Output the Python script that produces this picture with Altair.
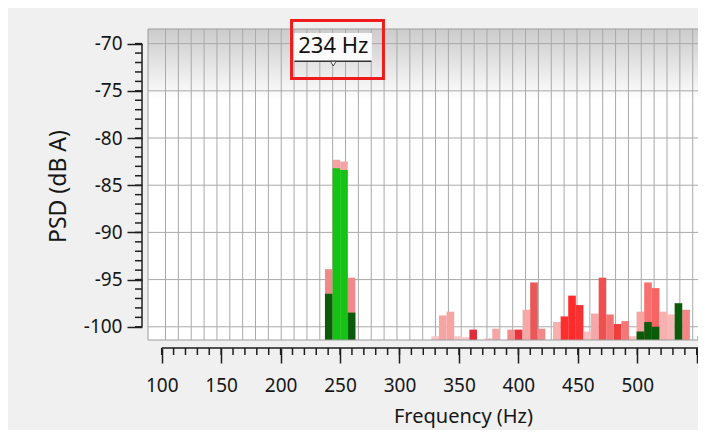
import altair as alt
import pandas as pd

# ---------------- data ----------------
# background (pink / red) bars: bin centre (Hz), level (dB A), colour
back_hz = [240.5, 246.9, 253.3, 259.7, 330.0, 336.4, 342.8, 349.2, 355.6, 362.0,
           374.8, 381.2, 393.9, 400.3, 406.7, 413.1, 419.5, 432.3, 438.7, 445.1,
           451.5, 457.9, 464.3, 470.7, 477.0, 483.4, 489.8, 496.2, 502.6, 509.0,
           515.4, 521.8, 528.2, 541.0, 553.8]
back_db = [-93.9, -82.3, -82.5, -94.8, -101.0, -98.8, -98.4, -101.0, -101.1, -100.3,
           -101.2, -100.2, -100.3, -100.3, -98.2, -95.3, -100.2, -99.5, -98.9, -96.7,
           -97.7, -100.5, -98.6, -94.8, -98.7, -99.7, -99.4, -101.0, -98.4, -95.3,
           -95.9, -98.4, -98.7, -98.2, -101.0]
back_color = ["#f08a8a", "#f4a4a4", "#f4a4a4", "#f08a8a", "#f8c6c6", "#f5a3a3", "#f5a3a3",
              "#f8c6c6", "#f8caca", "#e02c3c", "#f8caca", "#f5a5a5", "#f28c8c", "#e8323c",
              "#f5a8a8", "#e85858", "#f08a8a", "#f7b0b0", "#ff2e2e", "#ff2a2a", "#f83232",
              "#f8c0c0", "#f6a8a8", "#ee5050", "#f47272", "#ee3e3e", "#f47878", "#f8c0c0",
              "#f7a4a4", "#f87070", "#f86464", "#f8b0b0", "#f8b8b8", "#f58484", "#e84040"]

# foreground (green) bars
front_hz = [240.5, 246.9, 253.3, 259.7, 502.6, 509.0, 515.4, 534.6]
front_db = [-96.5, -83.2, -83.4, -98.5, -100.5, -99.5, -100.0, -97.5]
front_color = ["#0a5c0a", "#14c414", "#14c414", "#0a5c0a", "#0a5c0a", "#0a5c0a",
               "#0a5c0a", "#0a5c0a"]

BIN_HALF = 3.2          # half width of one bar, Hz

x_major = [100, 150, 200, 250, 300, 350, 400, 450, 500, 550]
y_major = [-70, -75, -80, -85, -90, -95, -100]
x_minor = list(range(100, 551, 10))
y_minor = list(range(-100, -69, 1))
grid_hz = [103.2 + 10.815 * i for i in range(42)]

marker_label = "234 Hz"
marker_hz = 244.3

# ---------------- layout ----------------
X_DOMAIN = [88.48, 551.05]
Y_DOMAIN = [-101.4, -68.45]
W, H = 550, 311
FONT = "Noto Sans"
TXT = "#161616"
GRID = "#a9a9a9"
TICK = "#1e1e1e"

xs = alt.Scale(domain=X_DOMAIN, nice=False, zero=False)
ys = alt.Scale(domain=Y_DOMAIN, nice=False, zero=False)

x_axis = alt.Axis(
    values=x_major, labelExpr="datum.value > 520 ? '' : '' + datum.value",
    tickSize=15, tickWidth=1.5, tickColor=TICK, domain=False, grid=False, offset=8,
    labelFont=FONT, labelFontSize=19, labelColor=TXT, labelPadding=13, labelFlush=False,
    labelOverlap=False,
    title="Frequency (Hz)", titleFont=FONT, titleFontSize=20, titleFontWeight="normal",
    titleColor=TXT, titleX=315, titleY=68, titleBaseline="middle", titleAlign="center",
)
y_axis = alt.Axis(
    values=y_major, labelExpr="'' + datum.value",
    tickSize=15, tickWidth=1.5, tickColor=TICK, domain=False, grid=False,
    offset=6, labelFont=FONT, labelFontSize=19, labelColor=TXT, labelPadding=5,
    labelOverlap=False,
    title="PSD (dB A)", titleFont=FONT, titleFontSize=23, titleFontWeight="normal",
    titleColor=TXT, titleX=-84, titleY=157, titleAngle=270, titleBaseline="middle",
    titleAlign="center",
)


def X(field):
    return alt.X(field, scale=xs, axis=x_axis)


def Y(field):
    return alt.Y(field, scale=ys, axis=y_axis)


def XD(v):
    return alt.XDatum(v, scale=xs, axis=x_axis)


def YD(v):
    return alt.YDatum(v, scale=ys, axis=y_axis)


back = pd.DataFrame({"hz": back_hz, "db": back_db, "color": back_color})
front = pd.DataFrame({"hz": front_hz, "db": front_db, "color": front_color})
for d in (back, front):
    d["x0"] = d["hz"] - BIN_HALF
    d["x1"] = d["hz"] + BIN_HALF
    d["base"] = Y_DOMAIN[0]

one = alt.Data(values=[{}])

band = alt.Chart(one).mark_rect(
    color=alt.Gradient(
        gradient="linear",
        stops=[alt.GradientStop(offset=0, color="#cccccc"),
               alt.GradientStop(offset=0.3, color="#dadada"),
               alt.GradientStop(offset=1, color="#ffffff")],
        x1=0, x2=0, y1=0, y2=1)
).encode(
    x=alt.value(0), x2=alt.value(W),
    y=YD(Y_DOMAIN[1]), y2=alt.datum(-76.0),
)

vgrid = alt.Chart(pd.DataFrame({"hz": grid_hz})).mark_rule(color=GRID, strokeWidth=1).encode(
    x=X("hz:Q"), y=alt.value(0), y2=alt.value(H),
)
hgrid = alt.Chart(pd.DataFrame({"db": y_major})).mark_rule(color=GRID, strokeWidth=1).encode(
    y=Y("db:Q"), x=alt.value(0), x2=alt.value(W),
)

bars_back = alt.Chart(back).mark_rect(clip=True).encode(
    x=X("x0:Q"), x2="x1:Q", y=Y("db:Q"), y2="base:Q",
    color=alt.Color("color:N", scale=None),
)
bars_front = alt.Chart(front).mark_rect(clip=True).encode(
    x=X("x0:Q"), x2="x1:Q", y=Y("db:Q"), y2="base:Q",
    color=alt.Color("color:N", scale=None),
)

FRAME = "#9c9c9c"
frame_top = alt.Chart(one).mark_rule(color=FRAME).encode(x=alt.value(0), x2=alt.value(W), y=alt.value(0))
frame_bot = alt.Chart(one).mark_rule(color=FRAME).encode(x=alt.value(0), x2=alt.value(W), y=alt.value(H))
frame_left = alt.Chart(one).mark_rule(color=FRAME).encode(x=alt.value(0), y=alt.value(0), y2=alt.value(H))

# axis lines and minor ticks
y_line = alt.Chart(one).mark_rule(color=TICK, strokeWidth=1.5).encode(
    x=alt.value(-6), y=YD(-70), y2=alt.datum(-100))
y_minor_ticks = alt.Chart(pd.DataFrame({"db": y_minor})).mark_rule(color=TICK, strokeWidth=1.5).encode(
    y=Y("db:Q"), x=alt.value(-6), x2=alt.value(-13))
x_line = alt.Chart(one).mark_rule(color=TICK, strokeWidth=1.5).encode(
    y=alt.value(H + 8), x=XD(100), x2=alt.datum(X_DOMAIN[1]))
x_minor_ticks = alt.Chart(pd.DataFrame({"hz": x_minor})).mark_rule(color=TICK, strokeWidth=1.5).encode(
    x=X("hz:Q"), y=alt.value(H + 8), y2=alt.value(H + 15))

# marker label "234 Hz" and the red highlight box
lab_bg = alt.Chart(one).mark_rect(color="#fbfbfb").encode(
    x=XD(211.2), x2=alt.datum(276.8), y=YD(-68.87), y2=alt.datum(-71.85))
lab_line = alt.Chart(one).mark_rule(color="#333333", strokeWidth=1.5).encode(
    x=XD(211.6), x2=alt.datum(276.4), y=YD(-71.87))
lab_caret = alt.Chart(one).mark_point(shape="triangle-down", filled=True, fill="white",
                                      stroke="#444444", strokeWidth=1, size=30, opacity=1).encode(
    x=XD(marker_hz), y=YD(-72.12))
lab_text = alt.Chart(one).mark_text(font=FONT, fontSize=22, color="#111111",
                                    align="center", baseline="middle").encode(
    x=XD(marker_hz), y=YD(-70.3), text=alt.value(marker_label))
red_box = alt.Chart(one).mark_rect(filled=False, stroke="#ee1c1c", strokeWidth=3, clip=False).encode(
    x=XD(209.2), x2=alt.datum(286.5), y=YD(-67.55), y2=alt.datum(-73.69))

chart = alt.layer(
    band, vgrid, hgrid, bars_back, bars_front,
    frame_top, frame_bot, frame_left,
    y_line, y_minor_ticks, x_line, x_minor_ticks,
    lab_bg, lab_line, lab_caret, lab_text, red_box,
).properties(
    width=W, height=H,
    autosize=alt.AutoSizeParams(type="none"),
    padding={"left": 140, "top": 21, "right": 0, "bottom": 90},
    background="#f0f0f0",
).configure_view(strokeWidth=0, fill="white")

chart.save("out.html", embed_options={"renderer": "svg", "actions": False})
